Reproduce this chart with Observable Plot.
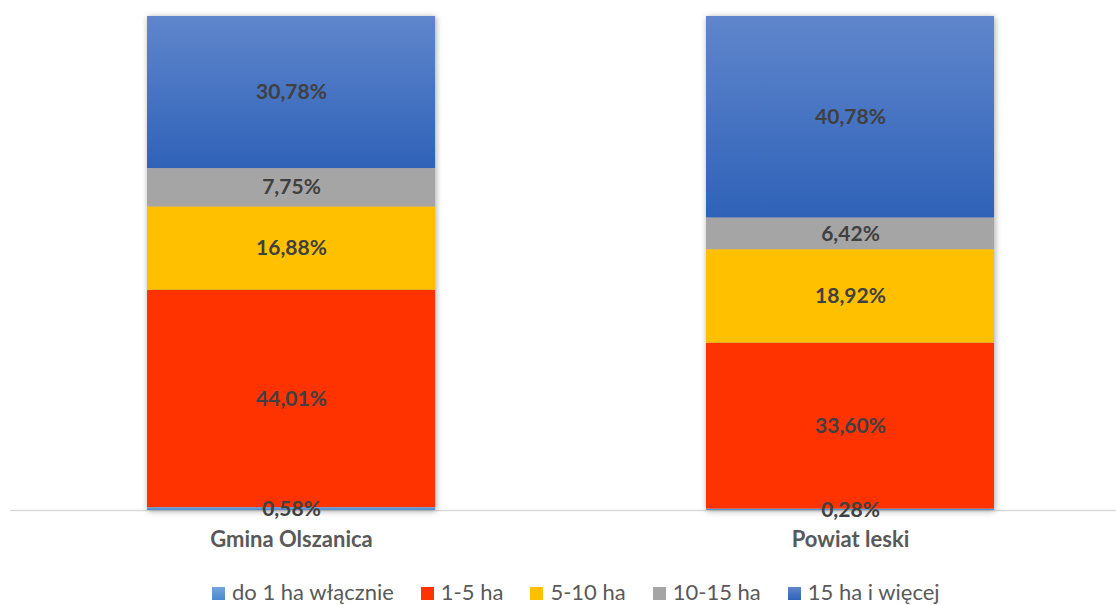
<!DOCTYPE html>
<html>
<head>
<meta charset="utf-8">
<script src="https://cdn.jsdelivr.net/npm/d3@7"></script>
<script src="https://cdn.jsdelivr.net/npm/@observablehq/plot@0.6"></script>
<style>
  html, body { margin: 0; padding: 0; background: #fff; }
  #wrap { position: relative; width: 1116px; height: 605px; overflow: hidden; font-family: Lato, "Open Sans", sans-serif; }
  #legend { position: absolute; top: 581px; left: 212px; display: flex; align-items: center; font-size: 22px; line-height: 22px; color: #595959; white-space: nowrap; }
  .item { display: flex; align-items: center; margin-right: 27px; }
  .sw { width: 13px; height: 13px; margin-right: 7px; margin-top: 3px; }
</style>
</head>
<body>
<div id="wrap"><div id="chart"></div><div id="legend"></div></div>
<script>
const categories = ["Gmina Olszanica", "Powiat leski"];
const sizes = ["do 1 ha włącznie", "1-5 ha", "5-10 ha", "10-15 ha", "15 ha i więcej"];
const gminaValues = [0.58, 44.01, 16.88, 7.75, 30.78];
const powiatValues = [0.28, 33.60, 18.92, 6.42, 40.78];
const sizeColors = ["url(#gLight)", "#ff3300", "#ffc000", "#a5a5a5", "url(#gBlue)"];
const legendColors = ["linear-gradient(#70a6dc,#4a88cc)", "#ff3300", "#ffc000", "#a5a5a5", "linear-gradient(#5f86cc,#2f62b8)"];

const seriesValues = [gminaValues, powiatValues];
const data = [];
categories.forEach((c, i) => sizes.forEach((s, j) => data.push({cat: c, size: s, value: seriesValues[i][j]})));

const fmt = v => v.toFixed(2).replace(".", ",") + "%";

const chart = Plot.plot({
  width: 1116,
  height: 570,
  marginTop: 16,
  marginBottom: 60,
  marginLeft: 10,
  marginRight: 0,
  style: {fontFamily: "Lato, 'Open Sans', sans-serif", background: "#fff"},
  x: {domain: categories, paddingInner: 0.4848, paddingOuter: 0.2317, align: 0.529, round: false, label: null},
  y: {domain: [0, 100], axis: null},
  color: {domain: sizes, range: sizeColors},
  marks: [
    Plot.ruleY([0], {stroke: "#d9d9d9", strokeWidth: 1.6}),
    Plot.barY(data, Plot.stackY({x: "cat", y: "value", fill: "size", z: "size", order: sizes,
      imageFilter: "drop-shadow(1px 1px 3px rgba(0,0,0,0.35))"})),
    Plot.text(data, Plot.stackY({x: "cat", y: "value", z: "size", order: sizes,
      text: d => fmt(d.value), fill: "#404040", fontSize: 21, fontWeight: "bold"})),
    Plot.axisX({tickSize: 0, tickPadding: 21, fontSize: 22, fontWeight: "bold", fill: "#595959", label: null})
  ]
});

const svg = d3.select(chart);
const defs = svg.insert("defs", ":first-child");
const g1 = defs.append("linearGradient").attr("id", "gBlue").attr("x1", 0).attr("y1", 0).attr("x2", 0).attr("y2", 1);
g1.append("stop").attr("offset", "0%").attr("stop-color", "#5f86cc");
g1.append("stop").attr("offset", "100%").attr("stop-color", "#2f62b8");
const g2 = defs.append("linearGradient").attr("id", "gLight").attr("x1", 0).attr("y1", 0).attr("x2", 0).attr("y2", 1);
g2.append("stop").attr("offset", "0%").attr("stop-color", "#70a6dc");
g2.append("stop").attr("offset", "100%").attr("stop-color", "#4a88cc");

document.getElementById("chart").appendChild(chart);

const legend = d3.select("#legend");
sizes.forEach((s, i) => {
  const it = legend.append("div").attr("class", "item");
  it.append("div").attr("class", "sw").style("background", legendColors[i]);
  it.append("span").text(s);
});
</script>
</body>
</html>
